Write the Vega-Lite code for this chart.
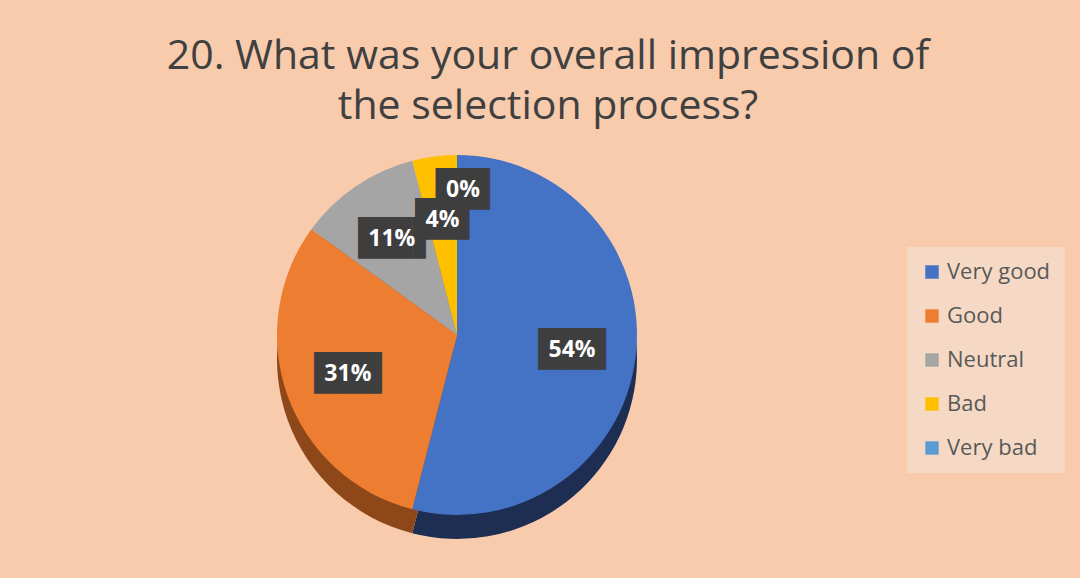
{
  "$schema": "https://vega.github.io/schema/vega-lite/v6.json",
  "width": 914,
  "height": 400,
  "autosize": {"type": "none"},
  "padding": {"left": 0, "top": 135, "right": 166, "bottom": 43},
  "background": "#F8CBAD",
  "title": {
    "text": ["20. What was your overall impression of", "the selection process?"],
    "font": "Open Sans",
    "fontSize": 41,
    "fontWeight": "normal",
    "color": "#404040",
    "anchor": "middle",
    "frame": "group",
    "dx": 91,
    "dy": 38,
    "offset": 4,
    "baseline": "bottom",
    "lineHeight": 50
  },
  "config": {"view": {"stroke": null}},
  "data": {
    "values": [
      {"category": "Very good", "value": 54, "order": 1},
      {"category": "Good", "value": 31, "order": 2},
      {"category": "Neutral", "value": 11, "order": 3},
      {"category": "Bad", "value": 4, "order": 4},
      {"category": "Very bad", "value": 0, "order": 5}
    ]
  },
  "layer": [
    {
      "mark": {"type": "arc", "radius": 180, "yOffset": 24},
      "encoding": {
        "theta": {"field": "value", "type": "quantitative", "stack": true},
        "order": {"field": "order", "type": "quantitative"},
        "color": {
          "field": "category",
          "type": "nominal",
          "scale": {
            "domain": ["Very good", "Good", "Neutral", "Bad", "Very bad"],
            "range": ["#1E2E52", "#8E4718", "#6E6E6E", "#B38600", "#3D6E99"]
          },
          "legend": null
        }
      }
    },
    {
      "mark": {"type": "arc", "radius": 180},
      "encoding": {
        "theta": {"field": "value", "type": "quantitative", "stack": true},
        "order": {"field": "order", "type": "quantitative"},
        "color": {
          "field": "category",
          "type": "nominal",
          "scale": {
            "domain": ["Very good", "Good", "Neutral", "Bad", "Very bad"],
            "range": ["#4472C4", "#ED7D31", "#A5A5A5", "#FFC000", "#5B9BD5"]
          },
          "legend": {
            "orient": "none",
            "legendX": 907,
            "legendY": 112,
            "title": null,
            "fillColor": "#F6D9C5",
            "padding": 14,
            "symbolType": "square",
            "symbolSize": 180,
            "symbolStrokeWidth": 0,
            "labelFont": "Open Sans",
            "labelFontSize": 22,
            "labelColor": "#595959",
            "labelOffset": 4,
            "rowPadding": 22
          }
        }
      }
    },
    {
      "transform": [
        {"stack": "value", "groupby": [], "sort": [{"field": "order", "order": "ascending"}], "as": ["s0", "s1"]},
        {"calculate": "(datum.s0 + datum.s1) / 2", "as": "mid"},
        {"calculate": "datum.value + '%'", "as": "label"},
        {"filter": "datum.category != 'Very bad'"}
      ],
      "layer": [
        {
          "transform": [{"filter": "length(datum.label) > 2"}],
          "mark": {"type": "text", "radius": 116, "dx": 7, "font": "DejaVu Sans", "fontSize": 35, "color": "#3E3E3E", "baseline": "middle", "align": "center"},
          "encoding": {
            "theta": {"field": "mid", "type": "quantitative", "scale": {"domain": [0, 100]}},
            "text": {"value": "██▌"}
          }
        },
        {
          "transform": [{"filter": "length(datum.label) <= 2"}],
          "mark": {"type": "text", "radius": 116, "font": "DejaVu Sans", "fontSize": 35, "color": "#3E3E3E", "baseline": "middle", "align": "center"},
          "encoding": {
            "theta": {"field": "mid", "type": "quantitative", "scale": {"domain": [0, 100]}},
            "text": {"value": "██"}
          }
        },
        {
          "mark": {"type": "text", "radius": 116, "font": "Open Sans", "fontSize": 23, "fontWeight": "bold", "color": "#FFFFFF", "baseline": "middle", "align": "center"},
          "encoding": {
            "theta": {"field": "mid", "type": "quantitative", "scale": {"domain": [0, 100]}},
            "text": {"field": "label"}
          }
        }
      ]
    },
    {
      "transform": [
        {"calculate": "datum.value + '%'", "as": "label"},
        {"filter": "datum.category == 'Very bad'"}
      ],
      "layer": [
        {
          "mark": {"type": "text", "radius": 145, "dx": 6, "font": "DejaVu Sans", "fontSize": 35, "color": "#3E3E3E", "baseline": "middle", "align": "center"},
          "encoding": {
            "theta": {"datum": 100, "type": "quantitative", "scale": {"domain": [0, 100]}},
            "text": {"value": "██"}
          }
        },
        {
          "mark": {"type": "text", "radius": 145, "dx": 6, "font": "Open Sans", "fontSize": 23, "fontWeight": "bold", "color": "#FFFFFF", "baseline": "middle", "align": "center"},
          "encoding": {
            "theta": {"datum": 100, "type": "quantitative", "scale": {"domain": [0, 100]}},
            "text": {"field": "label"}
          }
        }
      ]
    }
  ],
  "resolve": {"scale": {"color": "independent"}}
}
